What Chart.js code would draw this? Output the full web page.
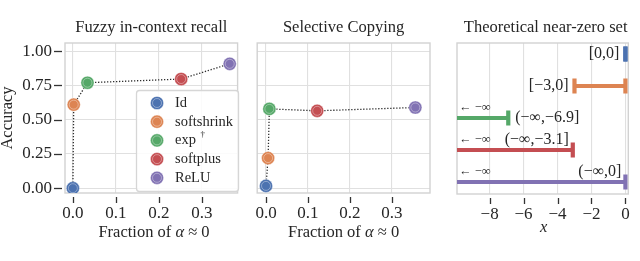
<!DOCTYPE html>
<html><head><meta charset="utf-8">
<script src="https://cdn.jsdelivr.net/npm/chart.js@4.4.1/dist/chart.umd.min.js"></script>
<style>
html,body{margin:0;padding:0;background:#fff;width:640px;height:261px;overflow:hidden}
canvas{position:absolute;top:0}
#c1{left:0}#c2{left:245px}#c3{left:440px}
</style></head><body>
<canvas id="c1" width="245" height="261"></canvas>
<canvas id="c2" width="195" height="261"></canvas>
<canvas id="c3" width="200" height="261"></canvas>
<script>
// ---------- data ----------
const methods = ['Id', 'softshrink', 'exp', 'softplus', 'ReLU'];
const methodColors = ['#4C72B0', '#DD8452', '#55A868', '#C44E52', '#8172B3'];
const fuzzyFrac = [0.0, 0.002, 0.034, 0.252, 0.365];
const fuzzyAcc = [0.0, 0.61, 0.77, 0.797, 0.908];
const copyFrac = [0.0, 0.005, 0.008, 0.122, 0.356];
const copyAcc = [0.017, 0.22, 0.579, 0.565, 0.589];
const accTicks = [0, 0.25, 0.5, 0.75, 1.0];
const fracTicks = [0, 0.1, 0.2, 0.3];
const setLow = [0, -3, -Infinity, -Infinity, -Infinity];
const setHigh = [0, 0, -6.9, -3.1, 0];
const setLabels = ['[0,0]', '[\u22123,0]', '(\u2212\u221E,\u22126.9]', '(\u2212\u221E,\u22123.1]', '(\u2212\u221E,0]'];
const setTicks = [-8, -6, -4, -2, 0];
const titles = ['Fuzzy in-context recall', 'Selective Copying', 'Theoretical near-zero set'];

// ---------- style ----------
const SERIF = '"Liberation Serif", "DejaVu Serif", serif';
const GRID = '#e0e0e0';
const FRAME = '#d2d2d2';
const TICKC = '#333333';
const TICKFONT = 17;
const LABFONT = '16.5px ' + SERIF;
Chart.defaults.font.family = SERIF;
Chart.defaults.color = '#262626';

function fixedTicks(arr) { return s => { s.ticks = arr.map(v => ({value: v})); }; }

function drawRuns(ctx, runs, cx, cy) {
  let w = 0;
  runs.forEach(r => { ctx.font = r.f; w += ctx.measureText(r.t).width; });
  let x = cx - w / 2;
  ctx.textBaseline = 'middle'; ctx.textAlign = 'left'; ctx.fillStyle = '#262626';
  runs.forEach(r => { ctx.font = r.f; ctx.fillText(r.t, x, cy); x += ctx.measureText(r.t).width; });
}
const fracTitle = [
  {t: 'Fraction of ', f: LABFONT},
  {t: '\u03B1', f: 'italic ' + LABFONT},
  {t: ' \u2248 0', f: LABFONT}
];

function decor(opts) {
  return {
    id: 'decor',
    beforeDatasetsDraw(chart) {
      const {ctx, chartArea: a} = chart;
      ctx.save();
      ctx.strokeStyle = FRAME; ctx.lineWidth = 1.4;
      ctx.strokeRect(a.left, a.top, a.right - a.left, a.bottom - a.top);
      ctx.restore();
    },
    afterDraw(chart) {
      const {ctx, chartArea: a, scales} = chart;
      ctx.save();
      // tick marks
      ctx.strokeStyle = TICKC; ctx.lineWidth = 1.3;
      scales.x.ticks.forEach(t => {
        const px = Math.round(scales.x.getPixelForValue(t.value)) + 0.5;
        ctx.beginPath(); ctx.moveTo(px, a.bottom + 4); ctx.lineTo(px, a.bottom + 10); ctx.stroke();
      });
      if (opts.yTicks) {
        scales.y.ticks.forEach(t => {
          const py = Math.round(scales.y.getPixelForValue(t.value)) + 0.5;
          ctx.beginPath(); ctx.moveTo(a.left - 11, py); ctx.lineTo(a.left - 3, py); ctx.stroke();
        });
      }
      // title
      ctx.fillStyle = '#262626'; ctx.font = LABFONT;
      ctx.textAlign = 'center'; ctx.textBaseline = 'middle';
      ctx.fillText(opts.title, (a.left + a.right) / 2 + (opts.titleDx || 0), 28);
      if (opts.xTitle) opts.xTitle(ctx, a);
      if (opts.yTitle) {
        ctx.save(); ctx.translate(8, (a.top + a.bottom) / 2); ctx.rotate(-Math.PI / 2);
        ctx.font = LABFONT; ctx.textAlign = 'center'; ctx.textBaseline = 'middle';
        ctx.fillText(opts.yTitle, 0, 0); ctx.restore();
      }
      if (opts.extra) opts.extra(chart);
      ctx.restore();
    }
  };
}

function scatterDatasets(fr, acc) {
  const pts = fr.map((v, i) => ({x: v, y: acc[i]}));
  return [
    { // ring highlight
      data: pts, showLine: false, pointRadius: 4.5, pointBackgroundColor: 'rgba(0,0,0,0)',
      pointBorderColor: 'rgba(255,255,255,0.45)', pointBorderWidth: 0.8, order: 0
    },
    {
      data: pts, showLine: true, borderColor: '#2e2e2e', borderWidth: 1.3, borderDash: [1.3, 1.7],
      pointRadius: 6.6, pointBackgroundColor: methodColors, pointBorderColor: 'rgba(255,255,255,0.5)',
      pointBorderWidth: 0.8, order: 1
    }
  ];
}

function fracScales(xmin, xmax, showY) {
  return {
    x: {
      type: 'linear', min: xmin, max: xmax,
      afterBuildTicks: fixedTicks(fracTicks),
      afterFit: s => { s.height = 68; },
      grid: {color: GRID, lineWidth: 1.1, drawTicks: false},
      border: {display: false},
      ticks: {padding: 10, font: {size: TICKFONT}, maxRotation: 0, callback: v => v.toFixed(1)}
    },
    y: {
      type: 'linear', min: -0.035, max: 1.06,
      afterBuildTicks: fixedTicks(accTicks),
      afterFit: s => { s.width = showY ? 65 : 0; },
      grid: {color: GRID, lineWidth: 1.1, drawTicks: false},
      border: {display: false},
      ticks: {display: showY, padding: 13, font: {size: TICKFONT}, callback: v => v.toFixed(2)}
    }
  };
}

const common = {
  responsive: false, animation: false, events: [],
  plugins: {legend: {display: false}, tooltip: {enabled: false}}
};

// ---------- panel 1 ----------
new Chart(document.getElementById('c1'), {
  type: 'scatter',
  data: {datasets: scatterDatasets(fuzzyFrac, fuzzyAcc)},
  options: Object.assign({}, common, {
    layout: {padding: {left: 0, right: 6, top: 43, bottom: 0}},
    scales: fracScales(-0.0183, 0.3833, true)
  }),
  plugins: [decor({
    title: titles[0], yTicks: true, yTitle: 'Accuracy',
    xTitle: (ctx, a) => drawRuns(ctx, fracTitle, 154, 233),
    extra: chart => {
      const ctx = chart.ctx;
      // legend box
      const bx = 136, by = 90, bw = 102, bh = 101, r = 3;
      ctx.save();
      ctx.beginPath();
      ctx.roundRect(bx + 0.5, by + 0.5, bw, bh, r);
      ctx.fillStyle = 'rgba(255,255,255,0.85)'; ctx.fill();
      ctx.strokeStyle = '#d6d6d6'; ctx.lineWidth = 1.3; ctx.stroke();
      methods.forEach((m, i) => {
        const y = by + 13 + i * 18.7;
        ctx.beginPath(); ctx.arc(157, y, 6.6, 0, Math.PI * 2);
        ctx.fillStyle = methodColors[i]; ctx.fill();
        ctx.strokeStyle = 'rgba(255,255,255,0.5)'; ctx.lineWidth = 0.8; ctx.stroke();
        ctx.beginPath(); ctx.arc(157, y, 4.5, 0, Math.PI * 2);
        ctx.strokeStyle = 'rgba(255,255,255,0.45)'; ctx.stroke();
        ctx.fillStyle = '#262626'; ctx.font = '14.5px ' + SERIF;
        ctx.textAlign = 'left'; ctx.textBaseline = 'middle';
        ctx.fillText(m, 175, y);
        if (m === 'exp') {
          const w = ctx.measureText(m + ' ').width;
          ctx.font = '9px ' + SERIF; ctx.fillText('\u2020', 175 + w + 1, y - 6);
        }
      });
      ctx.restore();
    }
  })]
});

// ---------- panel 2 ----------
new Chart(document.getElementById('c2'), {
  type: 'scatter',
  data: {datasets: scatterDatasets(copyFrac, copyAcc)},
  options: Object.assign({}, common, {
    layout: {padding: {left: 7, right: 10, top: 43, bottom: 0}},
    scales: fracScales(-0.021, 0.391, false)
  }),
  plugins: [decor({
    title: titles[1], yTicks: false,
    xTitle: (ctx, a) => drawRuns(ctx, fracTitle, (a.left + a.right) / 2, 233)
  })]
});

// ---------- panel 3 ----------
const FAR = -50;
const setDatasets = setLow.map((lo, i) => {
  const loX = isFinite(lo) ? lo : FAR;
  return {
    data: [{x: loX, y: i}, {x: setHigh[i], y: i}],
    showLine: true, borderColor: methodColors[i], borderWidth: 4.2,
    pointStyle: 'line', rotation: 90,
    pointRadius: [isFinite(lo) ? 7.5 : 0, 7.5],
    pointBorderColor: methodColors[i], pointBackgroundColor: methodColors[i], pointBorderWidth: 4.2
  };
});

new Chart(document.getElementById('c3'), {
  type: 'scatter',
  data: {datasets: setDatasets},
  options: Object.assign({}, common, {
    layout: {padding: {left: 17, right: 5, top: 43, bottom: 0}},
    scales: {
      x: {
        type: 'linear', min: -9.92, max: 0.17,
        afterBuildTicks: fixedTicks(setTicks),
        afterFit: s => { s.height = 67; },
        grid: {color: GRID, lineWidth: 1.1, drawTicks: false},
        border: {display: false},
        ticks: {padding: 10, font: {size: TICKFONT}, maxRotation: 0,
                callback: v => String(v).replace('-', '\u2212')}
      },
      y: {
        type: 'linear', min: -0.344, max: 4.375, reverse: true, display: false
      }
    }
  }),
  plugins: [decor({
    title: titles[2], titleDx: 3,
    xTitle: (ctx, a) => drawRuns(ctx, [{t: 'x', f: 'italic ' + LABFONT}], (a.left + a.right) / 2 + 1, 228),
    extra: chart => {
      const {ctx, scales: {x, y}, chartArea: a} = chart;
      ctx.save();
      ctx.fillStyle = '#262626'; ctx.textBaseline = 'middle';
      setLabels.forEach((lab, i) => {
        const py = y.getPixelForValue(i);
        ctx.font = '16px ' + SERIF;
        const lo = setLow[i], hi = setHigh[i];
        if (isFinite(lo)) {
          ctx.textAlign = 'right';
          ctx.fillText(lab, x.getPixelForValue(lo) - 6, py);
        } else if (i === 2) {
          ctx.textAlign = 'left';
          ctx.fillText(lab, x.getPixelForValue(hi) + 7, py);
        } else {
          ctx.textAlign = 'right';
          ctx.fillText(lab, x.getPixelForValue(hi) - 4, py - 10);
        }
        if (!isFinite(lo)) {
          ctx.font = '12.5px ' + SERIF; ctx.textAlign = 'left';
          ctx.fillText('\u2190 \u2212\u221E', a.left + 2, py - 10);
        }
      });
      ctx.restore();
    }
  })]
});
</script>
</body></html>
